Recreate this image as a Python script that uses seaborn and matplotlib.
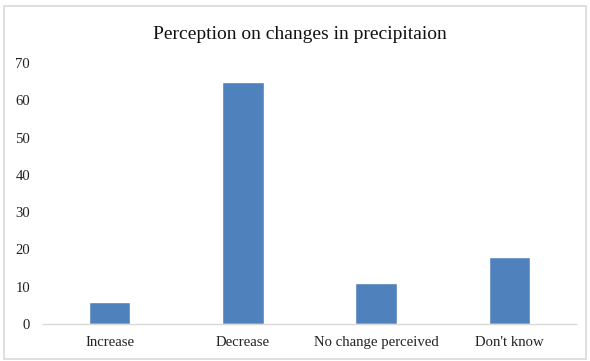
import matplotlib
matplotlib.use("Agg")
import matplotlib.pyplot as plt
import seaborn as sns
import pandas as pd
from matplotlib.patches import Rectangle

categories = ["Increase", "Decrease", "No change perceived", "Don't know"]
values = [6, 65, 11, 18]
y_ticks = [0, 10, 20, 30, 40, 50, 60, 70]
title = "Perception on changes in precipitaion"

df = pd.DataFrame({"response": categories, "percent": values})

sns.set_theme(style="white")
plt.rcParams["font.family"] = ["Liberation Serif", "DejaVu Serif"]

fig = plt.figure(figsize=(5.9, 3.61), dpi=100)
ax = fig.add_axes([0.073, 0.1025, 0.903, 0.723])

sns.barplot(data=df, x="response", y="percent", color="#4F81BD",
            saturation=1, width=0.31, ax=ax)

ax.set_ylim(0, 70)
ax.set_yticks(y_ticks)
ax.set_xlim(-0.5, len(categories) - 0.5)
ax.set_xlabel("")
ax.set_ylabel("")
for side in ["top", "right", "left"]:
    ax.spines[side].set_visible(False)
ax.spines["bottom"].set_color("#d9d9d9")
ax.spines["bottom"].set_linewidth(1.0)
ax.tick_params(axis="both", length=0, labelsize=10.6, colors="#222222")
ax.tick_params(axis="y", pad=9.4)
ax.tick_params(axis="x", pad=8.3)

fig.text(0.508, 0.905, title, ha="center", va="center", fontsize=14, color="#111111")

# light frame around the chart area
fig.patches.append(Rectangle((3.5 / 590, 2 / 361), 582.5 / 590, 353 / 361,
                             transform=fig.transFigure, fill=False,
                             edgecolor="#d9d9d9", linewidth=1.2))

fig.savefig("out.png", dpi=100)
